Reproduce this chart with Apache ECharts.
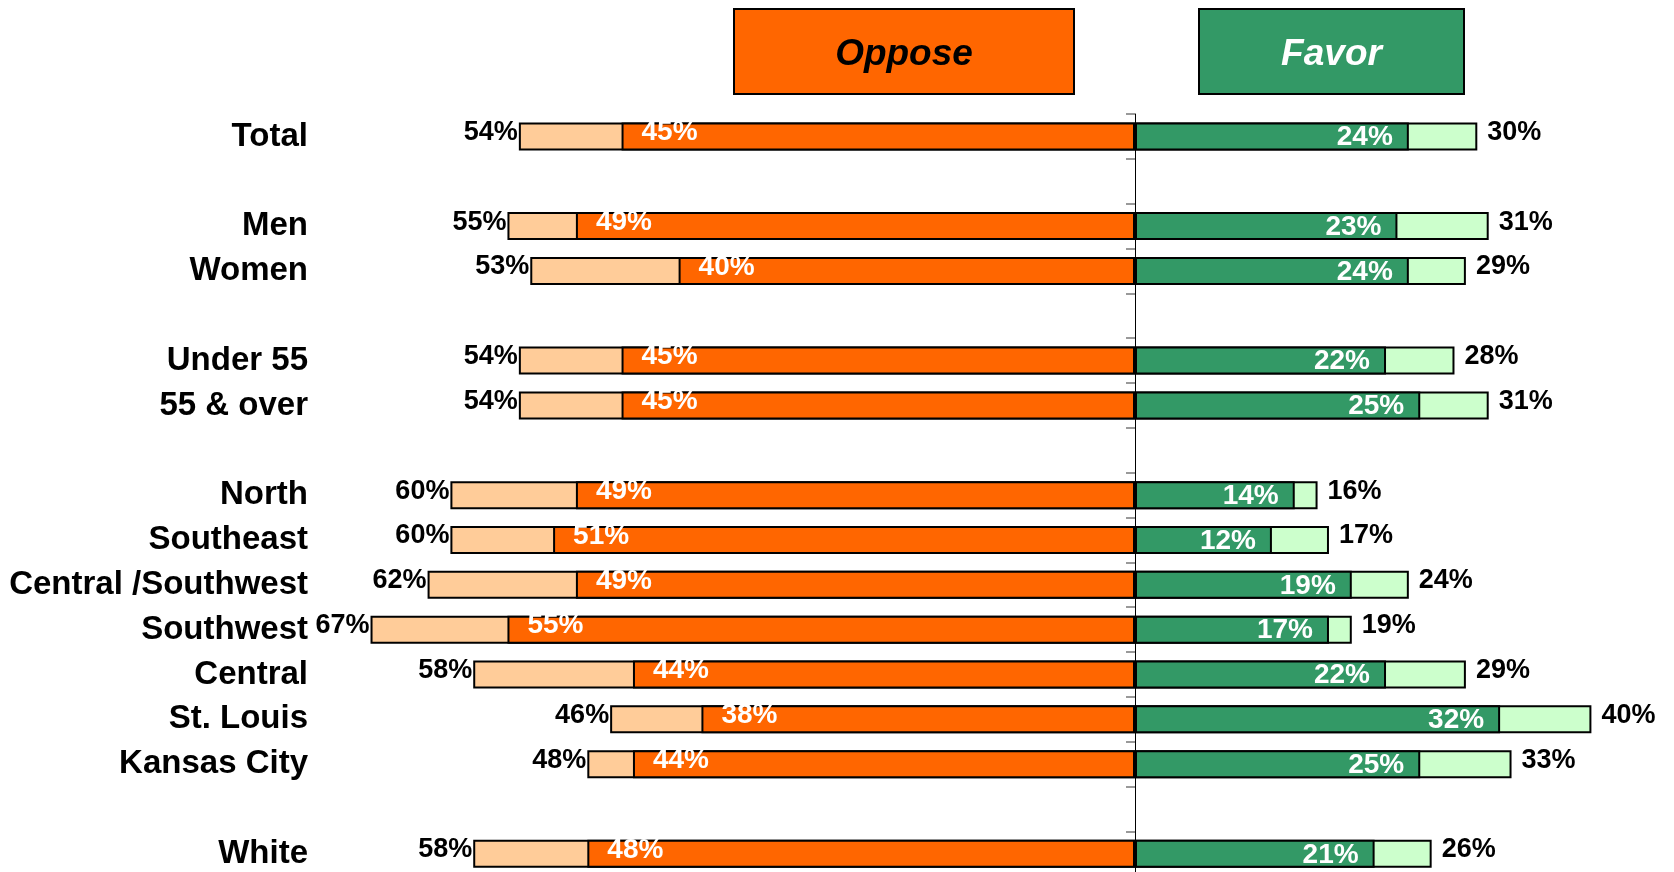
<!DOCTYPE html>
<html>
<head>
<meta charset="utf-8">
<title>Oppose / Favor by group</title>
<script src="https://cdn.jsdelivr.net/npm/echarts@6/dist/echarts.min.js"></script>
<style>
  html, body { margin: 0; padding: 0; background: #ffffff; overflow: hidden; }
  #chart { width: 1674px; height: 900px; }
</style>
</head>
<body>
<div id="chart"></div>
<script>
// Groups, top to bottom; empty entries are spacer rows between blocks
const categories = ['Total', '', 'Men', 'Women', '', 'Under 55', '55 & over', '',
  'North', 'Southeast', 'Central /Southwest', 'Southwest', 'Central', 'St. Louis', 'Kansas City', '', 'White'];

// Percent opposing: all who oppose, and the strongly opposed core
const opposeTotal  = [54, null, 55, 53, null, 54, 54, null, 60, 60, 62, 67, 58, 46, 48, null, 58];
const opposeStrong = [45, null, 49, 40, null, 45, 45, null, 49, 51, 49, 55, 44, 38, 44, null, 48];

// Percent in favour: strongly in favour, and all who favour
const favorStrong = [24, null, 23, 24, null, 22, 25, null, 14, 12, 19, 17, 22, 32, 25, null, 21];
const favorTotal  = [30, null, 31, 29, null, 28, 31, null, 16, 17, 24, 19, 29, 40, 33, null, 26];

const headerLabels = ['Oppose', 'Favor'];

const FONT = "'Liberation Sans', Arial, Helvetica, sans-serif";
const ORANGE = '#FF6600', ORANGE_LIGHT = '#FFCC99';
const GREEN = '#339966', GREEN_LIGHT = '#CCFFCC';

// Horizontal scale: value range and pixels per percentage point
const X_MIN = -72, X_MAX = 46, PX_PER_PCT = 11.41, ZERO_X = 1135;
const gridLeft = ZERO_X + X_MIN * PX_PER_PCT;
const gridWidth = (X_MAX - X_MIN) * PX_PER_PCT;
const gridTop = 114;
const rowHeight = 44.84;

const neg = arr => arr.map(v => (v == null ? null : -v));
const pct = p => Math.abs(p.value) + '%';

const chart = echarts.init(document.getElementById('chart'), null, { renderer: 'canvas' });

const barBase = {
  type: 'bar',
  barWidth: 28,
  barGap: '-100%',
  xAxisIndex: 0,
  yAxisIndex: 0
};

chart.setOption({
  animation: false,
  backgroundColor: '#ffffff',
  textStyle: { fontFamily: FONT },
  grid: {
    left: gridLeft,
    top: gridTop,
    width: gridWidth,
    height: rowHeight * categories.length,
    containLabel: false
  },
  xAxis: {
    type: 'value',
    min: X_MIN,
    max: X_MAX,
    show: false,
    splitLine: { show: false }
  },
  yAxis: [
    {
      // centre line at zero with category boundary ticks
      type: 'category',
      data: categories,
      inverse: true,
      axisLine: { show: true, onZero: true, lineStyle: { color: '#000', width: 1 } },
      axisTick: { show: true, length: 9, inside: false, lineStyle: { color: '#999', width: 2 } },
      axisLabel: { show: false },
      splitLine: { show: false }
    },
    {
      // group names on the far left
      type: 'category',
      data: categories,
      inverse: true,
      position: 'left',
      axisLine: { show: false, onZero: false },
      axisTick: { show: false },
      axisLabel: {
        show: true,
        margin: gridLeft - 308,
        color: '#000',
        fontFamily: FONT,
        fontWeight: 'bold',
        fontSize: 33
      },
      splitLine: { show: false }
    }
  ],
  series: [
    Object.assign({}, barBase, {
      name: 'Oppose (total)',
      data: neg(opposeTotal),
      itemStyle: { color: ORANGE_LIGHT, borderColor: '#000', borderWidth: 2 },
      label: {
        show: true, position: 'left', distance: 1, offset: [0, -4],
        formatter: pct, color: '#000', fontFamily: FONT, fontWeight: 'bold', fontSize: 27
      }
    }),
    Object.assign({}, barBase, {
      name: 'Oppose (strong)',
      data: neg(opposeStrong),
      itemStyle: { color: ORANGE, borderColor: '#000', borderWidth: 2 },
      label: {
        show: true, position: 'insideLeft', distance: 20, offset: [0, -4],
        formatter: pct, color: '#fff', fontFamily: FONT, fontWeight: 'bold', fontSize: 28
      }
    }),
    Object.assign({}, barBase, {
      name: 'Favor (total)',
      data: favorTotal,
      itemStyle: { color: GREEN_LIGHT, borderColor: '#000', borderWidth: 2 },
      label: {
        show: true, position: 'right', distance: 10, offset: [0, -4],
        formatter: pct, color: '#000', fontFamily: FONT, fontWeight: 'bold', fontSize: 27
      }
    }),
    Object.assign({}, barBase, {
      name: 'Favor (strong)',
      data: favorStrong,
      itemStyle: { color: GREEN, borderColor: '#000', borderWidth: 2 },
      label: {
        show: true, position: 'insideRight', distance: 16, offset: [0, 1],
        formatter: pct, color: '#fff', fontFamily: FONT, fontWeight: 'bold', fontSize: 28
      }
    })
  ],
  graphic: [
    {
      type: 'rect',
      left: 733, top: 8,
      shape: { width: 340, height: 85 },
      style: { fill: ORANGE, stroke: '#000', lineWidth: 2 },
      textContent: {
        style: {
          text: headerLabels[0], fill: '#000', fontFamily: FONT,
          fontWeight: 'bold', fontStyle: 'italic', fontSize: 37
        }
      },
      textConfig: { position: 'inside', offset: [0, 3] }
    },
    {
      type: 'rect',
      left: 1198, top: 8,
      shape: { width: 265, height: 85 },
      style: { fill: GREEN, stroke: '#000', lineWidth: 2 },
      textContent: {
        style: {
          text: headerLabels[1], fill: '#fff', fontFamily: FONT,
          fontWeight: 'bold', fontStyle: 'italic', fontSize: 37
        }
      },
      textConfig: { position: 'inside', offset: [0, 3] }
    }
  ]
});
</script>
</body>
</html>
